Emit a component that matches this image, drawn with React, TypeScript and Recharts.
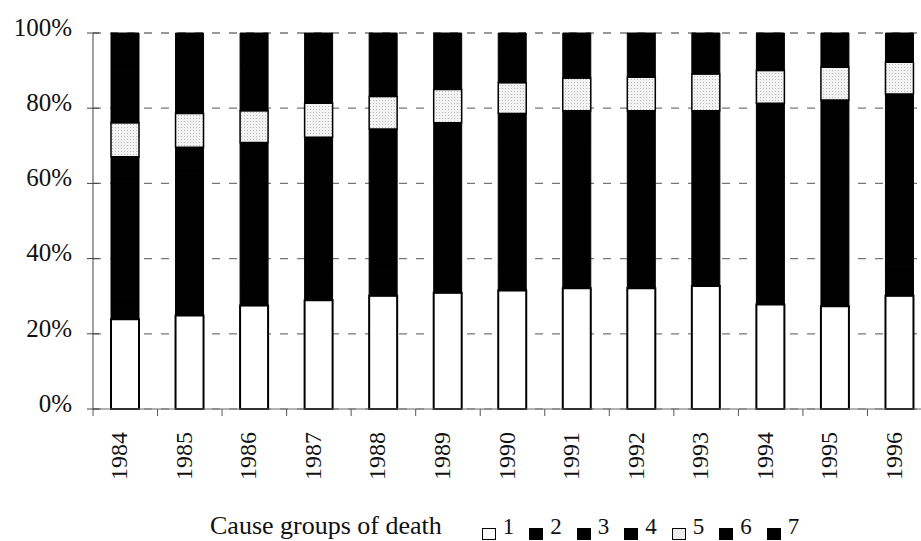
import React from 'react';
import { BarChart, Bar, XAxis, YAxis, CartesianGrid, Legend } from 'recharts';

const years = ['1984', '1985', '1986', '1987', '1988', '1989', '1990', '1991', '1992', '1993', '1994', '1995', '1996'];

// share of deaths (%) by cause group
const group1 = [23.9, 24.9, 27.5, 28.9, 30.1, 30.9, 31.5, 32.1, 32.1, 32.7, 27.8, 27.3, 30.1];
const group2 = [6.1, 6.3, 6.0, 6.2, 6.4, 6.5, 6.8, 6.9, 6.8, 6.7, 7.6, 7.9, 7.7];
const group3 = [30.4, 31.5, 30.6, 30.5, 31.2, 31.8, 33.2, 33.1, 33.2, 32.7, 37.6, 38.5, 37.7];
const group4 = [6.7, 6.9, 6.8, 6.7, 6.8, 6.9, 7.1, 7.2, 7.2, 7.2, 8.3, 8.5, 8.3];
const group5 = [9.0, 9.0, 8.4, 9.0, 8.6, 8.9, 8.2, 8.7, 8.9, 9.8, 8.7, 8.7, 8.4];
const group6 = [14.1, 12.6, 12.2, 11.0, 9.9, 8.8, 7.8, 7.1, 7.0, 6.4, 5.9, 5.4, 4.6];
const group7 = [9.8, 8.8, 8.5, 7.7, 7.0, 6.2, 5.4, 4.9, 4.8, 4.5, 4.1, 3.7, 3.2];

const yTicks = [0, 20, 40, 60, 80, 100];

const data = years.map((year, i) => ({
  year,
  g1: group1[i], g2: group2[i], g3: group3[i], g4: group4[i],
  g5: group5[i], g6: group6[i], g7: group7[i],
}));

const FONT = '"Liberation Serif", "Times New Roman", serif';

const series = [
  { key: 'g1', name: '1', fill: '#ffffff', swatch: '#ffffff', sw: 2 },
  { key: 'g2', name: '2', fill: '#000000', swatch: '#000000', sw: 1 },
  { key: 'g3', name: '3', fill: '#000000', swatch: '#000000', sw: 1 },
  { key: 'g4', name: '4', fill: '#000000', swatch: '#000000', sw: 1 },
  { key: 'g5', name: '5', fill: 'url(#stipple)', swatch: '#ededed', sw: 1.5 },
  { key: 'g6', name: '6', fill: '#000000', swatch: '#000000', sw: 1 },
  { key: 'g7', name: '7', fill: '#000000', swatch: '#000000', sw: 1 },
];

const YTick = (props: any) => {
  const { x, y, payload } = props;
  return (
    <g>
      <line x1={x + 15} x2={x + 27} y1={y} y2={y} stroke="#444" strokeWidth={1} />
      <text x={x} y={y - 6} dy="0.35em" textAnchor="end" fontSize={25} fontFamily={FONT} fill="#111">
        {payload.value}%
      </text>
    </g>
  );
};

const XTick = (props: any) => {
  const { x, y, payload } = props;
  const half = payload.offset ?? 32.3;
  const bx = x - half;
  return (
    <g>
      <line x1={bx} x2={bx} y1={y - 23} y2={y - 16} stroke="#555" strokeWidth={1} />
      <text
        x={x + 2}
        y={y}
        textAnchor="end"
        transform={`rotate(-90, ${x + 2}, ${y})`}
        fontSize={24}
        fontFamily={FONT}
        fill="#111"
      >
        {payload.value}
      </text>
    </g>
  );
};

const LegendBox = () => (
  <div style={{ display: 'flex', alignItems: 'baseline', fontFamily: FONT, color: '#111', lineHeight: '26px' }}>
    <span style={{ fontSize: 26, marginRight: 40 }}>Cause groups of death</span>
    {series.map(s => (
      <span key={s.key} style={{ display: 'inline-flex', alignItems: 'baseline', marginRight: 15 }}>
        <span
          style={{
            display: 'inline-block', width: 12, height: 10, border: '1.5px solid #000',
            background: s.swatch, position: 'relative', top: 6, marginRight: 7,
          }}
        />
        <span style={{ fontSize: 23 }}>{s.name}</span>
      </span>
    ))}
  </div>
);

export default function App() {
  return (
    <div style={{ position: 'absolute', left: 0, top: 0, width: 921, height: 541, overflow: 'hidden', background: '#fff' }}>
      <BarChart
        width={942}
        height={541}
        data={data}
        margin={{ top: 33, right: 10, bottom: 12, left: 0 }}
        barSize={28}
      >
        <defs>
          <pattern id="stipple" width="3" height="3" patternUnits="userSpaceOnUse">
            <rect width="3" height="3" fill="#f3f3f3" />
            <circle cx="1.5" cy="1.5" r="0.5" fill="#a8a8a8" />
          </pattern>
        </defs>
        <CartesianGrid vertical={false} stroke="#777" strokeDasharray="8 9" strokeWidth={1.2} />
        <XAxis
          dataKey="year"
          height={86}
          tickLine={false}
          tickSize={7}
          tickMargin={16}
          axisLine={{ stroke: '#666', strokeWidth: 1 }}
          tick={<XTick />}
          interval={0}
        />
        <YAxis
          domain={[0, 100]}
          ticks={yTicks}
          width={93}
          tickLine={false}
          tickSize={6}
          tickMargin={15}
          axisLine={{ stroke: '#444', strokeWidth: 1 }}
          tick={<YTick />}
        />
        <Legend
          verticalAlign="bottom"
          content={<LegendBox />}
          wrapperStyle={{ left: 210, top: 513, width: 'auto', height: 34 }}
        />
        {series.map(s => (
          <Bar
            key={s.key}
            dataKey={s.key}
            name={s.name}
            stackId="a"
            fill={s.fill}
            stroke="#000"
            strokeWidth={s.sw}
            isAnimationActive={false}
          />
        ))}
      </BarChart>
    </div>
  );
}
